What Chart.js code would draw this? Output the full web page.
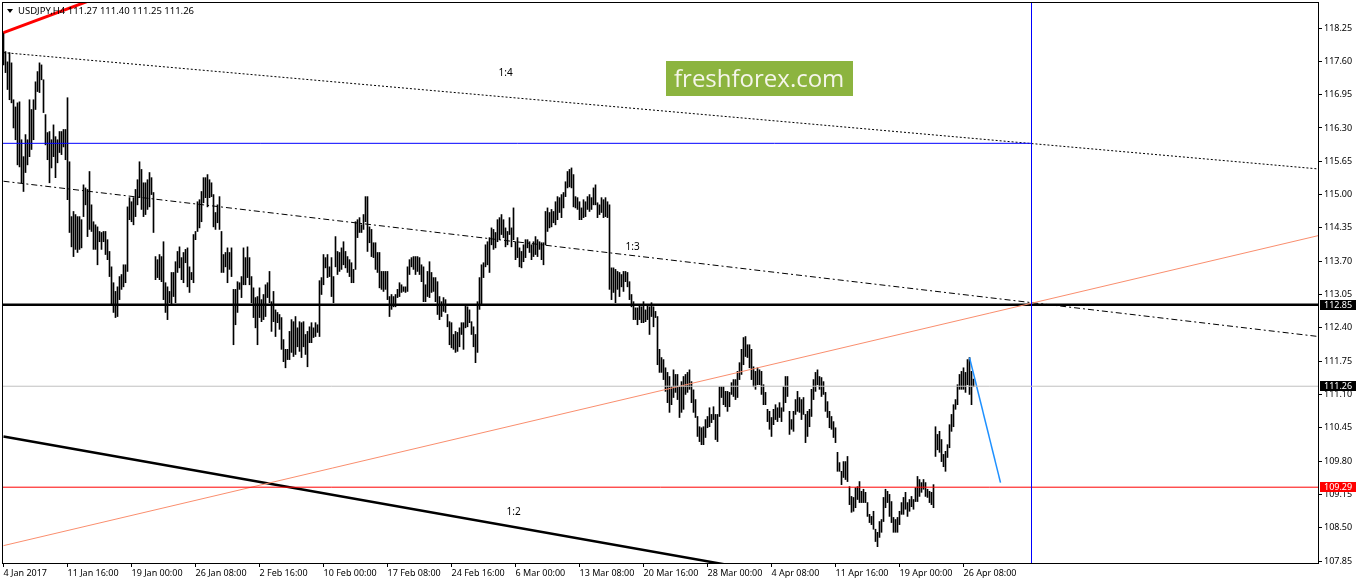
<!DOCTYPE html>
<html>
<head>
<meta charset="utf-8">
<script src="https://cdn.jsdelivr.net/npm/chart.js@4.4.1/dist/chart.umd.min.js"></script>
<style>
  body { margin: 0; background: #fff; }
  #wrap { width: 1358px; height: 584px; position: relative; }
</style>
</head>
<body>
<div id="wrap"><canvas id="chart"></canvas></div>
<script>
// USDJPY H4, one entry per bar starting 4 Jan 2017 08:00
const symbol = 'USDJPY,H4';
const lastQuote = [111.27, 111.40, 111.25, 111.26];

const barHigh = [
  118.16,117.79,117.59,117.77,117.57,116.85,116.71,116.79,116.81,116.07,
  115.74,116.17,116.07,116.85,116.66,116.85,117.20,117.40,117.57,117.53,
  117.24,116.56,116.21,116.23,116.07,116.36,116.13,116.07,116.23,116.23,
  116.27,116.27,116.89,115.64,114.57,114.67,114.61,114.57,114.57,114.51,
  115.19,115.13,115.10,115.45,114.80,114.47,114.41,114.37,114.28,114.26,
  114.28,114.28,114.12,113.89,113.59,113.28,113.11,113.20,113.40,113.44,
  113.63,113.63,114.76,114.94,114.86,114.94,115.10,115.29,115.64,115.49,
  115.23,115.23,115.29,115.43,115.33,115.04,113.79,113.73,113.83,113.79,
  114.08,113.28,113.20,113.11,113.48,113.48,113.69,113.89,113.98,113.77,
  113.87,113.93,113.96,113.59,113.48,114.22,114.28,114.86,114.90,115.06,
  115.33,115.33,115.39,115.29,115.23,115.00,114.65,114.80,114.96,114.28,
  113.83,113.87,113.96,113.87,113.96,113.15,113.15,113.30,113.28,113.40,
  113.96,113.77,113.98,113.77,113.40,113.18,112.99,113.01,113.18,112.95,
  113.05,113.24,113.28,113.50,112.91,113.11,112.75,112.70,112.66,112.60,
  112.17,111.98,111.98,112.33,112.56,112.52,112.62,112.40,112.52,112.50,
  112.52,112.27,112.33,112.42,112.50,112.40,112.50,112.46,113.32,113.38,
  113.83,113.77,113.83,113.59,113.77,113.40,114.18,113.89,113.87,113.96,
  114.08,113.89,113.79,113.73,113.67,113.54,114.47,114.51,114.55,114.41,
  114.61,114.96,114.96,114.37,114.32,114.06,114.06,113.87,113.87,113.50,
  113.50,113.50,113.50,113.01,113.05,113.01,113.05,113.15,113.28,113.24,
  113.20,113.20,113.59,113.73,113.77,113.79,113.79,113.79,113.77,113.63,
  113.59,113.24,113.50,113.69,113.48,113.38,113.38,113.30,113.01,112.91,
  112.99,112.95,112.66,112.52,112.50,112.27,112.33,112.31,112.40,112.50,
  112.50,112.85,112.81,112.75,112.52,112.42,112.27,112.91,113.38,113.63,
  113.67,114.02,114.08,114.16,114.35,114.32,114.26,114.51,114.55,114.61,
  114.51,114.35,114.28,114.55,114.35,114.74,114.08,114.16,113.96,113.89,
  114.02,114.12,114.12,114.08,114.02,114.08,114.18,114.12,114.08,114.06,
  114.06,114.67,114.74,114.65,114.71,114.67,114.86,114.96,114.94,115.00,
  115.04,115.25,115.45,115.49,115.52,115.39,114.96,114.94,114.86,114.74,
  114.90,114.86,114.96,115.00,114.94,115.13,115.19,114.84,114.80,114.94,
  114.90,114.94,114.86,114.80,113.57,113.57,113.54,113.50,113.48,113.44,
  113.50,113.50,113.48,113.30,113.05,112.91,112.79,112.79,112.85,112.81,
  112.91,112.75,112.85,112.81,112.89,112.81,112.72,112.62,111.98,111.82,
  111.78,111.62,111.53,111.45,111.25,111.58,111.49,111.49,111.25,111.35,
  111.45,111.49,111.53,111.58,111.35,111.19,111.00,110.67,110.47,110.45,
  110.47,110.61,110.67,110.84,110.71,110.86,110.71,110.71,111.25,111.25,
  111.25,111.16,111.16,111.14,111.33,111.39,111.39,111.55,111.72,111.98,
  112.21,112.23,112.07,112.07,111.98,111.64,111.55,111.62,111.58,111.55,
  111.29,111.14,110.81,110.77,110.65,110.81,110.90,110.84,110.94,110.84,
  111.25,111.45,111.45,110.77,110.61,110.77,111.00,111.16,111.04,111.00,
  111.04,110.71,110.77,110.81,111.20,111.39,111.53,111.58,111.45,111.43,
  111.35,111.14,110.96,110.77,110.67,110.57,110.45,109.97,109.77,109.60,
  109.79,109.79,109.89,109.30,109.11,109.09,109.28,109.30,109.40,109.21,
  109.25,109.19,108.99,108.76,108.72,108.82,108.47,108.41,108.62,108.66,
  109.09,109.25,109.21,109.15,109.01,108.70,108.66,108.70,108.82,108.99,
  109.09,109.19,108.99,109.05,109.11,109.05,109.28,109.50,109.44,109.38,
  109.44,109.38,109.25,109.21,109.19,109.34,110.47,110.32,110.38,110.22,
  109.93,109.99,110.12,110.51,110.71,110.90,111.00,111.29,111.49,111.55,
  111.62,111.53,111.78,111.82,111.55,111.40
];

const barLow = [
  117.53,117.38,117.05,116.85,116.79,116.30,116.07,115.58,115.54,115.23,
  115.06,115.43,115.58,115.74,115.88,116.07,116.66,117.01,116.99,117.24,
  116.60,115.97,115.68,115.23,115.52,115.74,115.33,115.62,115.82,115.78,
  115.93,115.68,114.90,114.26,113.98,113.79,113.93,113.87,113.93,113.96,
  114.57,114.80,114.18,114.32,114.28,113.93,113.93,113.63,114.08,113.93,
  114.08,113.83,113.73,113.40,112.85,112.70,112.60,112.62,112.95,113.15,
  113.20,113.28,113.50,114.51,114.47,114.41,114.57,114.80,114.94,114.71,
  114.57,114.61,114.71,114.76,115.00,114.26,113.34,113.38,113.34,113.30,
  112.95,112.70,112.56,112.89,112.85,113.01,112.89,113.48,113.57,113.34,
  113.28,113.67,113.20,113.09,113.34,113.28,114.12,114.28,114.35,114.47,
  114.84,114.94,114.76,114.94,114.96,114.37,114.32,114.45,114.32,113.48,
  113.48,113.59,113.28,113.54,113.40,112.07,112.46,112.70,113.15,112.99,
  113.24,113.24,113.38,113.24,112.89,112.60,112.40,112.07,112.60,112.52,
  112.56,112.62,112.99,112.89,112.33,112.52,112.23,112.50,112.37,111.98,
  111.74,111.62,111.78,111.78,111.92,111.84,111.88,112.03,111.94,111.82,
  112.03,111.88,111.64,112.11,112.11,112.21,112.23,112.31,112.23,113.05,
  113.24,113.57,113.38,113.40,113.01,112.89,113.59,113.44,113.50,113.54,
  113.63,113.57,113.48,113.40,113.28,113.28,113.54,114.16,114.26,114.26,
  114.32,114.47,113.89,114.06,113.79,113.77,113.54,113.48,113.18,113.15,
  113.11,113.15,112.95,112.62,112.76,112.81,112.81,112.99,113.01,113.09,
  113.11,113.09,113.11,113.44,113.59,113.54,113.44,113.50,113.44,113.30,
  112.91,112.91,113.01,112.99,113.09,113.11,112.91,112.66,112.56,112.62,
  112.72,112.70,112.42,112.07,112.01,111.98,111.92,111.94,112.03,112.27,
  111.98,112.40,112.42,112.50,112.27,112.03,111.72,111.92,112.76,112.85,
  113.38,113.59,113.63,113.48,114.02,113.93,113.96,114.08,114.12,114.22,
  114.16,113.98,114.02,114.22,113.98,114.12,113.73,113.77,113.59,113.57,
  113.69,113.77,113.96,113.87,113.73,113.79,113.83,113.79,113.93,113.73,
  113.63,114.02,114.28,114.35,114.37,114.45,114.41,114.51,114.65,114.55,
  114.74,114.96,115.13,115.15,115.13,114.76,114.74,114.71,114.51,114.51,
  114.55,114.57,114.71,114.67,114.71,114.80,114.80,114.55,114.61,114.65,
  114.55,114.57,114.55,113.15,112.95,113.09,112.89,113.15,113.01,113.20,
  113.11,113.30,113.20,112.95,112.81,112.56,112.56,112.46,112.56,112.50,
  112.50,112.52,112.56,112.27,112.62,112.42,112.60,111.68,111.53,111.53,
  111.39,111.16,110.94,110.75,110.90,111.04,111.14,111.00,110.65,110.75,
  110.81,111.10,111.14,111.20,110.94,110.75,110.65,110.28,110.18,110.12,
  110.12,110.26,110.45,110.47,110.55,110.61,110.22,110.18,110.67,111.04,
  110.90,110.86,110.77,110.86,111.10,111.06,111.00,111.04,111.39,111.49,
  111.68,111.84,111.82,111.62,111.39,111.25,111.20,111.29,111.29,111.10,
  110.90,110.90,110.57,110.42,110.28,110.51,110.61,110.57,110.65,110.57,
  110.77,110.94,111.06,110.32,110.42,110.38,110.71,110.77,110.75,110.61,
  110.71,110.16,110.28,110.47,110.67,111.00,111.16,111.29,111.20,111.06,
  111.10,110.77,110.65,110.45,110.42,110.26,110.16,109.60,109.60,109.34,
  109.48,109.44,109.40,108.95,108.80,108.82,108.89,109.05,108.99,108.99,
  108.99,108.99,108.72,108.60,108.56,108.47,108.23,108.13,108.31,108.41,
  108.62,108.89,108.99,108.72,108.60,108.41,108.41,108.41,108.56,108.76,
  108.76,108.86,108.72,108.82,108.91,108.86,109.01,109.01,109.11,109.19,
  109.25,109.11,109.09,108.99,108.95,108.89,109.89,110.02,109.97,109.79,
  109.69,109.60,109.87,110.06,110.38,110.47,110.81,110.90,111.20,111.20,
  111.20,111.14,111.29,111.10,110.90,111.25
];

// time axis: label every 32 bars
const xTickIdx = [0, 32, 64, 96, 128, 160, 192, 224, 256, 288, 320, 352, 384, 416, 448, 480];
const xTickLabels = ['4 Jan 2017', '11 Jan 16:00', '19 Jan 00:00', '26 Jan 08:00', '2 Feb 16:00',
  '10 Feb 00:00', '17 Feb 08:00', '24 Feb 16:00', '6 Mar 00:00', '13 Mar 08:00', '20 Mar 16:00',
  '28 Mar 00:00', '4 Apr 08:00', '11 Apr 16:00', '19 Apr 00:00', '26 Apr 08:00'];
const yTickValues = [107.85, 108.50, 109.15, 109.80, 110.45, 111.10, 111.75, 112.40,
  113.05, 113.70, 114.35, 115.00, 115.65, 116.30, 116.95, 117.60, 118.25];

// horizontal levels and the time marker
const levelUpper = 116.00;
const levelPivot = 112.85;
const levelBid = 111.26;
const levelSupport = 109.29;
const markerBar = 514;

// trend lines as [bar index, price] pairs
const redTrend = [[0, 118.16], [60, 119.03]];
const fan14 = [[0, 117.77], [657.5, 115.50]];
const fan13 = [[0, 115.26], [657.5, 112.23]];
const fan12 = [[0, 110.28], [380, 107.65]];
const riseLine = [[0, 108.15], [657.5, 114.20]];
const forecast = [[483, 111.82], [498.5, 109.38]];
const fanNames = ['1:4', '1:3', '1:2'];
const fanNamePos = [[247.5, 117.43], [311, 114.04], [251.5, 108.87]];

const X_MIN = -0.25, X_MAX = 657.25;
const Y_MIN = 107.811, Y_MAX = 118.738;
const FONT = '"Noto Sans", sans-serif';

function seg(pts) { return pts.map(([x, y]) => ({ x, y })); }
function lineSet(pts, color, width, dash) {
  return {
    type: 'line', data: seg(pts), borderColor: color, borderWidth: width,
    borderDash: dash || [], pointRadius: 0, fill: false, tension: 0, order: 0
  };
}

const datasets = [
  {
    type: 'bar',
    data: barHigh.map((h, i) => ({ x: i, y: [barLow[i], h] })),
    backgroundColor: '#000', borderWidth: 0, barThickness: 1, order: 1
  },
  lineSet([[X_MIN, levelBid], [X_MAX, levelBid]], '#c0c0c0', 1),
  lineSet([[X_MIN, levelUpper], [markerBar, levelUpper]], '#0000ff', 1),
  lineSet([[markerBar, Y_MIN], [markerBar, Y_MAX]], '#0000ff', 1),
  lineSet([[X_MIN, levelSupport], [X_MAX, levelSupport]], '#ff0000', 1),
  lineSet(riseLine, '#fa8e6e', 1),
  lineSet(fan14, '#000', 1, [2, 2]),
  lineSet(fan13, '#000', 1, [6, 3, 2, 3]),
  lineSet(fan12, '#000', 2.5),
  lineSet([[X_MIN, levelPivot], [X_MAX, levelPivot]], '#000', 2.5),
  lineSet(redTrend, '#ff0000', 3),
  lineSet(forecast, '#1e90ff', 1.5)
];

const overlay = {
  id: 'overlay',
  beforeDraw(chart) {
    const c = chart.ctx;
    c.save();
    c.fillStyle = '#fff';
    c.fillRect(0, 0, chart.width, chart.height);
    c.restore();
  },
  afterDraw(chart) {
    const c = chart.ctx, a = chart.chartArea;
    const xs = chart.scales.x, ys = chart.scales.y;
    c.save();
    // frame
    c.strokeStyle = '#000';
    c.lineWidth = 1;
    c.strokeRect(2.5, 2.5, Math.round(a.right) - 2, Math.round(a.bottom) - 2);

    // fan labels
    c.fillStyle = '#000';
    c.font = '10px ' + FONT;
    c.textBaseline = 'top';
    c.textAlign = 'left';
    fanNames.forEach((t, i) => {
      c.fillText(t, xs.getPixelForValue(fanNamePos[i][0]), ys.getPixelForValue(fanNamePos[i][1]) - 2);
    });

    // header
    c.beginPath();
    c.moveTo(7, 9); c.lineTo(13, 9); c.lineTo(10, 13); c.closePath();
    c.fill();
    c.font = '9.5px ' + FONT;
    c.textBaseline = 'middle';
    c.fillText(symbol + ' ' + lastQuote.map(v => v.toFixed(2)).join(' '), 18, 11);

    // watermark
    c.fillStyle = '#8cb43f';
    c.fillRect(666, 61, 187, 35);
    c.fillStyle = '#f5f5ea';
    c.font = '24px "Open Sans", sans-serif';
    c.textBaseline = 'alphabetic';
    c.fillText('freshforex.com', 674, 87);

    // price tags on the axis
    c.font = '9px ' + FONT;
    c.textBaseline = 'middle';
    [[levelPivot, '#000'], [levelBid, '#000'], [levelSupport, '#ff0000']].forEach(([v, col]) => {
      const y = Math.round(ys.getPixelForValue(v));
      c.fillStyle = col;
      c.fillRect(Math.round(a.right) + 2, y - 5, 36, 10);
      c.fillStyle = '#fff';
      c.fillText(v.toFixed(2), Math.round(a.right) + 6, y + 0.5);
    });
    c.restore();
  }
};

new Chart(document.getElementById('chart'), {
  type: 'bar',
  data: { datasets },
  plugins: [overlay],
  options: {
    responsive: true,
    maintainAspectRatio: false,
    devicePixelRatio: 1,
    animation: false,
    events: [],
    layout: { padding: { left: 3, top: 3, right: 0, bottom: 0 } },
    plugins: { legend: { display: false }, tooltip: { enabled: false } },
    scales: {
      x: {
        type: 'linear', min: X_MIN, max: X_MAX, offset: false,
        afterBuildTicks: s => { s.ticks = xTickIdx.map(v => ({ value: v })); },
        afterFit: s => { s.height = 21; s.paddingLeft = 0; s.paddingRight = 0; },
        ticks: {
          autoSkip: false, maxRotation: 0, minRotation: 0, align: 'start', padding: 1,
          color: '#000', font: { family: FONT, size: 9 },
          callback: v => xTickLabels[xTickIdx.indexOf(v)]
        },
        grid: { offset: false, drawOnChartArea: false, drawTicks: true, tickLength: 4, color: '#000' },
        border: { display: true, color: '#000' }
      },
      y: {
        position: 'right', min: Y_MIN, max: Y_MAX,
        afterBuildTicks: s => { s.ticks = yTickValues.map(v => ({ value: v })); },
        afterFit: s => { s.width = 40; s.paddingTop = 0; s.paddingBottom = 0; },
        ticks: {
          padding: 2, color: '#000', font: { family: FONT, size: 9 },
          callback: v => v.toFixed(2)
        },
        grid: { drawOnChartArea: false, drawTicks: true, tickLength: 4, color: '#000' },
        border: { display: true, color: '#000' }
      }
    }
  }
});
</script>
</body>
</html>
